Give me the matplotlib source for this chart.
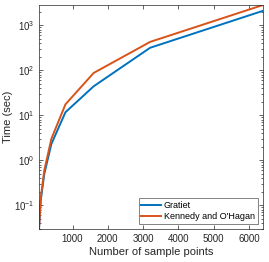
import matplotlib
matplotlib.use("Agg")
import matplotlib.pyplot as plt
from matplotlib.ticker import LogLocator, NullFormatter

plt.rcParams['font.family'] = ['Liberation Sans', 'DejaVu Sans']
plt.rcParams['mathtext.fontset'] = 'custom'
plt.rcParams['mathtext.rm'] = 'Liberation Sans'
plt.rcParams['mathtext.it'] = 'Liberation Sans:italic'
plt.rcParams['mathtext.bf'] = 'Liberation Sans:bold'

n_samples = [50, 100, 200, 400, 800, 1600, 3200, 6400]
gratiet = [0.03, 0.13, 0.5, 2.3, 11.7, 44, 315, 2080]
kennedy = [0.03, 0.15, 0.6, 3.0, 17.5, 87, 425, 2800]

fig = plt.figure(figsize=(2.69, 2.62), dpi=100)
ax = fig.add_axes([39/269, 1-229/262, 224/269, 224/262])
ax.plot(n_samples, gratiet, color='#0072BD', lw=1.4, label='Gratiet')
ax.plot(n_samples, kennedy, color='#D95319', lw=1.4, label="Kennedy and O'Hagan")
ax.set_yscale('log')
ax.set_xlim(50, 6400)
ax.set_ylim(0.03, 2800)
ax.set_xticks([1000, 2000, 3000, 4000, 5000, 6000])
ax.yaxis.set_major_locator(LogLocator(base=10, numticks=20))
ax.yaxis.set_minor_locator(LogLocator(base=10, subs=range(2, 10), numticks=20))
ax.yaxis.set_minor_formatter(NullFormatter())
ax.tick_params(which='both', direction='in', top=True, right=True, labelsize=7, color='#262626', labelcolor='#262626')
ax.tick_params(which='major', length=3, width=0.5)
ax.tick_params(which='minor', length=1.5, width=0.5)
ax.tick_params(axis='y', pad=3)
for s in ax.spines.values():
    s.set_linewidth(0.5)
    s.set_color('#262626')
ax.set_xlabel('Number of sample points', fontsize=8, color='#262626', labelpad=2)
ax.set_ylabel('Time (sec)', fontsize=8, color='#262626', labelpad=1)
leg = ax.legend(loc='lower right', fontsize=6.5, frameon=True, fancybox=False,
                edgecolor='#262626', handlelength=2.2, borderpad=0.3, labelspacing=0.2,
                handletextpad=0.3, borderaxespad=0.6)
leg.get_frame().set_linewidth(0.5)
fig.savefig('out.png', dpi=100)
